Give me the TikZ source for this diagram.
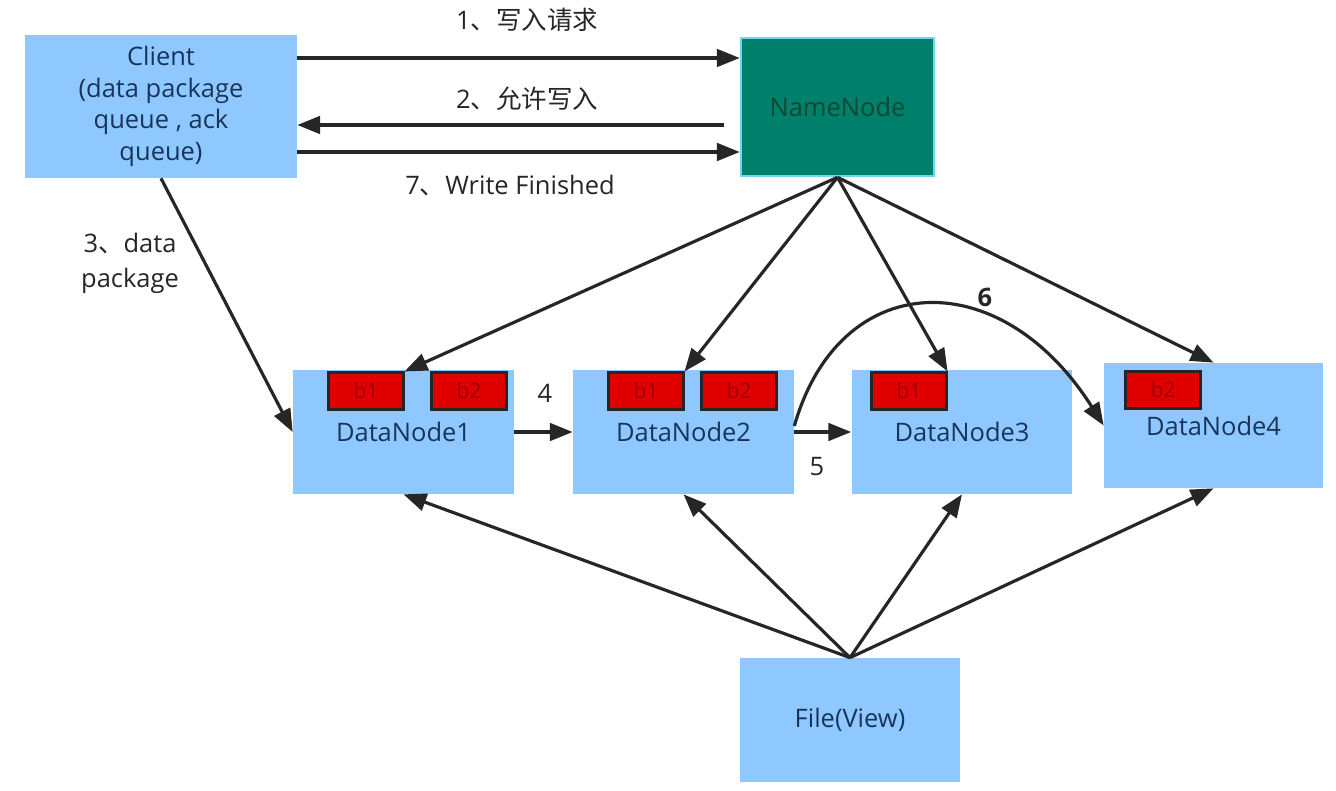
\documentclass[tikz,border=0pt]{standalone}
\usepackage{fontspec}
\setmainfont{Open Sans}
\newfontfamily\cjk{Noto Sans CJK SC}
\usetikzlibrary{arrows.meta}
\definecolor{boxblue}{RGB}{143,200,255}
\definecolor{nodegreen}{RGB}{0,128,106}
\definecolor{nodeedge}{RGB}{110,215,235}
\definecolor{nodetext}{RGB}{16,72,52}
\definecolor{boxtext}{RGB}{22,52,92}
\definecolor{arrowgray}{RGB}{38,38,38}
\definecolor{blockred}{RGB}{225,0,0}
\definecolor{blocktext}{RGB}{160,0,0}
\tikzset{
  box/.style={fill=boxblue, text=boxtext, font=\fontsize{14.5}{18}\selectfont, align=center, inner sep=0pt},
  dnode/.style={box, minimum width=4.42cm, minimum height=2.48cm},
  block/.style={fill=blockred, draw=arrowgray, line width=1.2pt, minimum width=1.5cm, minimum height=0.74cm,
    text=blocktext, font=\fontsize{12}{12}\selectfont, inner sep=0pt},
  link/.style={draw=arrowgray, line width=1.8pt, -{Triangle[length=13pt,width=10pt]}},
  lbl/.style={text=arrowgray, font=\fontsize{14.5}{20}\selectfont, align=center},
}
\begin{document}
\begin{tikzpicture}[x=0.02cm,y=-0.02cm]
  \useasboundingbox[fill=white] (0,0) rectangle (1336,791);

  \node[box, minimum width=5.44cm, minimum height=2.86cm] (client) at (161,106.5)
    {Client\\(data package\\queue , ack\\queue)};
  \node[box, fill=nodegreen, draw=nodeedge, line width=1.5pt, text=nodetext,
    minimum width=3.86cm, minimum height=2.76cm] (nn) at (837.5,107) {NameNode};

  \node[dnode] (dn1) at (403.5,432) {DataNode1};
  \node[dnode] (dn2) at (683.5,432) {DataNode2};
  \node[dnode] (dn3) at (962,432) {DataNode3};
  \node[dnode, minimum width=4.38cm, minimum height=2.5cm] (dn4) at (1213.5,425.5) {DataNode4};
  \node[dnode] (file) at (850,720) {File(View)};

  \foreach \name/\x/\y/\txt in {b11/366/391/b1, b12/469/391/b2, b21/646/391/b1, b22/739/391/b2,
                                b31/909/391/b1, b42/1163/390/b2}
    \node[block] (\name) at (\x,\y) {\txt};

  \coordinate (r1) at (0,58);
  \coordinate (r2) at (0,125);
  \coordinate (r7) at (0,152);
  \draw[link] (client.east |- r1) -- (nn.west |- r1);
  \draw[link, shorten <=0.32cm] (nn.west |- r2) -- (client.east |- r2);
  \draw[link] (client.east |- r7) -- (nn.west |- r7);
  \draw[link] (client.south) -- (dn1.west);

  \foreach \t in {b11.north east, b21.north east, b31.north east, dn4.north}
    \draw[link] (nn.south) -- (\t);
  \foreach \t in {dn1.south, dn2.south, dn3.south, dn4.south}
    \draw[link] (file.north) -- (\t);

  \draw[link] (dn1.east) -- (dn2.west);
  \draw[link] (dn2.east) -- (dn3.west);
  \draw[link] ([yshift=0.12cm]dn2.east) .. controls +(45,-158) and +(-104,-164) .. (dn4.west);

  \node[lbl] (l1) at (527,20) {1{\cjk 、写入请求}};
  \node[lbl] (l2) at (527,99) {2{\cjk 、允许写入}};
  \node[lbl] (l7) at (510,186) {7{\cjk 、}Write Finished};
  \node[lbl] (l3) at (130,263) {3{\cjk 、}data\\package};
  \node[lbl] (l4) at (545,393) {4};
  \node[lbl] (l5) at (817,467) {5};
  \node[lbl, font=\fontsize{14.5}{20}\selectfont\bfseries] (l6) at (985,297) {6};
\end{tikzpicture}
\end{document}
